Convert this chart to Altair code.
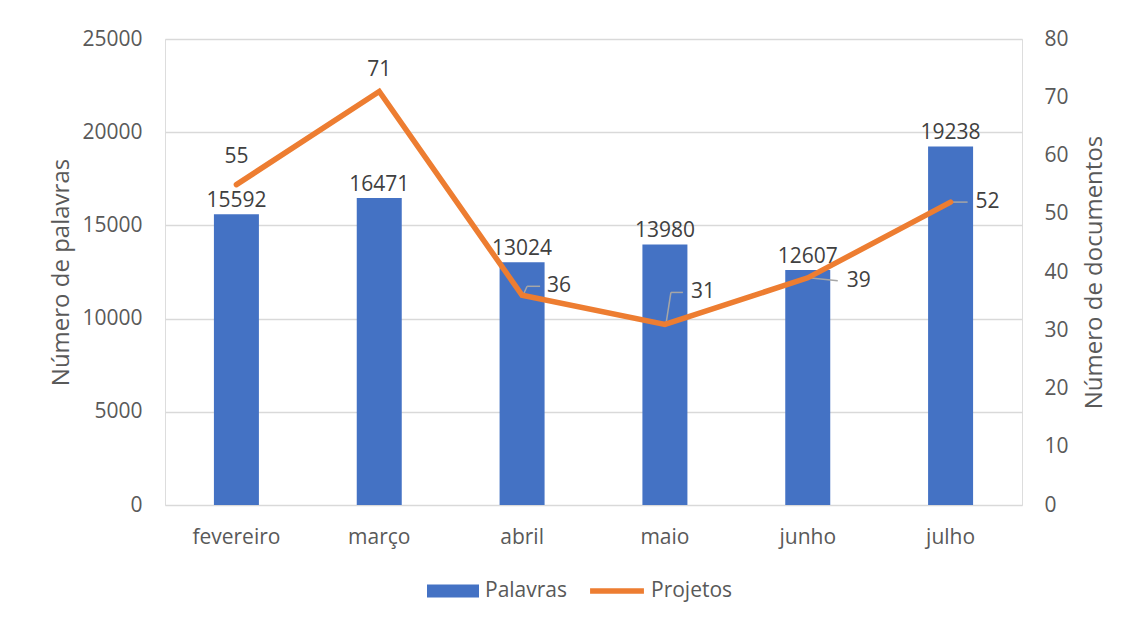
import altair as alt
import pandas as pd

meses = ["fevereiro", "março", "abril", "maio", "junho", "julho"]
palavras = [15592, 16471, 13024, 13980, 12607, 19238]
projetos = [55, 71, 36, 31, 39, 52]

df = pd.DataFrame({"mes": meses, "palavras": palavras, "projetos": projetos,
                   "s1": ["Palavras"] * len(meses), "s2": ["Projetos"] * len(meses)})

FONT = "Open Sans"
FS = 21
TFS = 24
AX = "#595959"
LBL = "#404040"
BLUE = "#4472C4"
ORANGE = "#ED7D31"
LEAD = "#A6A6A6"

x = alt.X("mes:N", sort=meses, title=None,
          scale=alt.Scale(paddingInner=0, paddingOuter=0),
          axis=alt.Axis(labelAngle=0, ticks=False, domain=False, labelPadding=21,
                        labelFontSize=FS, labelColor=AX, labelFont=FONT))

base = alt.Chart(df)

yL = alt.Y("palavras:Q", title="Número de palavras",
           scale=alt.Scale(domain=[0, 25000], nice=False),
           axis=alt.Axis(values=[0, 5000, 10000, 15000, 20000, 25000], format="d",
                         ticks=False, domain=False, gridColor="#D9D9D9", gridWidth=1.3,
                         labelPadding=23, labelFontSize=FS, labelColor=AX, labelFont=FONT,
                         titleFontSize=TFS, titleColor=AX, titleFont=FONT,
                         titleFontWeight="normal", titlePadding=8))

bars = base.mark_bar(size=45).encode(
    x=x, y=yL,
    color=alt.Color("s1:N", scale=alt.Scale(domain=["Palavras"], range=[BLUE]),
                    legend=alt.Legend(
                        orient="none", direction="horizontal", title=None,
                        legendX=262, legendY=526,
                        labelFontSize=FS, labelColor=AX, labelFont=FONT,
                        symbolType="M-1,-0.25H1V0.25H-1Z", symbolSize=2704,
                        symbolStrokeWidth=0, labelOffset=6))
)

bar_text = base.mark_text(baseline="alphabetic", dy=-7, fontSize=FS, font=FONT, color=LBL).encode(
    x=x, y=alt.Y("palavras:Q"), text=alt.Text("palavras:Q", format="d"))

yR = alt.Y("projetos:Q", title="Número de documentos",
           scale=alt.Scale(domain=[0, 80], nice=False),
           axis=alt.Axis(orient="right", values=list(range(0, 90, 10)), grid=False,
                         ticks=False, domain=False, labelPadding=22,
                         labelFontSize=FS, labelColor=AX, labelFont=FONT,
                         titleFontSize=TFS, titleColor=AX, titleFont=FONT,
                         titleFontWeight="normal", titleAngle=270, titleBaseline="top",
                         titlePadding=14))

line_base = base.encode(x=x, y=yR)
line = line_base.mark_line(strokeWidth=5.5, strokeCap="round", strokeJoin="miter").encode(
    stroke=alt.Stroke("s2:N", scale=alt.Scale(domain=["Projetos"], range=[ORANGE]),
                      legend=alt.Legend(
                          orient="none", direction="horizontal", title=None,
                          legendX=422, legendY=522,
                          labelFontSize=FS, labelColor=AX, labelFont=FONT,
                          symbolType="stroke", symbolSize=2900,
                          symbolStrokeWidth=5.5, labelOffset=4))
)


def only(months):
    return line_base.transform_filter(alt.FieldOneOfPredicate(field="mes", oneOf=months))


def lab(months, **kw):
    return only(months).mark_text(fontSize=FS, font=FONT, color=LBL, **kw).encode(text="projetos:Q")


def leader(month, x1, y1, x2, y2):
    return only([month]).mark_rule(
        color=LEAD, strokeWidth=1.5, xOffset=x1, yOffset=y1, x2Offset=x2, y2Offset=y2
    ).encode(
        x=alt.X("mes:N", sort=meses, bandPosition=0.5),
        x2=alt.X2("mes:N", bandPosition=0.5),
        y2=alt.Y2("projetos:Q"),
    )


leaders = [
    leader("abril", 1, 0, 5, -9),
    leader("abril", 5, -9, 18, -9),
    leader("maio", 1, 0, 6, -32),
    leader("maio", 6, -32, 18, -32),
    leader("junho", 1, 0, 30, 3),
    leader("julho", 0, 0, 17, 0),
]

l_above1 = lab(["fevereiro"], dy=-22, baseline="alphabetic")
l_above2 = lab(["março"], dy=-15, baseline="alphabetic")
l_abril = lab(["abril"], dx=25, dy=-9, align="left", baseline="middle")
l_maio = lab(["maio"], dx=26, dy=-32, align="left", baseline="middle")
l_junho = lab(["junho"], dx=39, dy=3, align="left", baseline="middle")
l_julho = lab(["julho"], dx=25, dy=0, align="left", baseline="middle")

left = alt.layer(bars, bar_text)
right = alt.layer(*leaders, line, l_above1, l_above2, l_abril, l_maio, l_junho, l_julho)

chart = alt.layer(left, right).resolve_scale(y="independent", color="independent").properties(
    width=857, height=466,
    autosize=alt.AutoSizeParams(type="none"),
    padding={"left": 157, "top": 31, "right": 101, "bottom": 105},
).configure_view(stroke=None).configure(background="white")

chart.save("out.html", embed_options={"renderer": "svg", "actions": False})
